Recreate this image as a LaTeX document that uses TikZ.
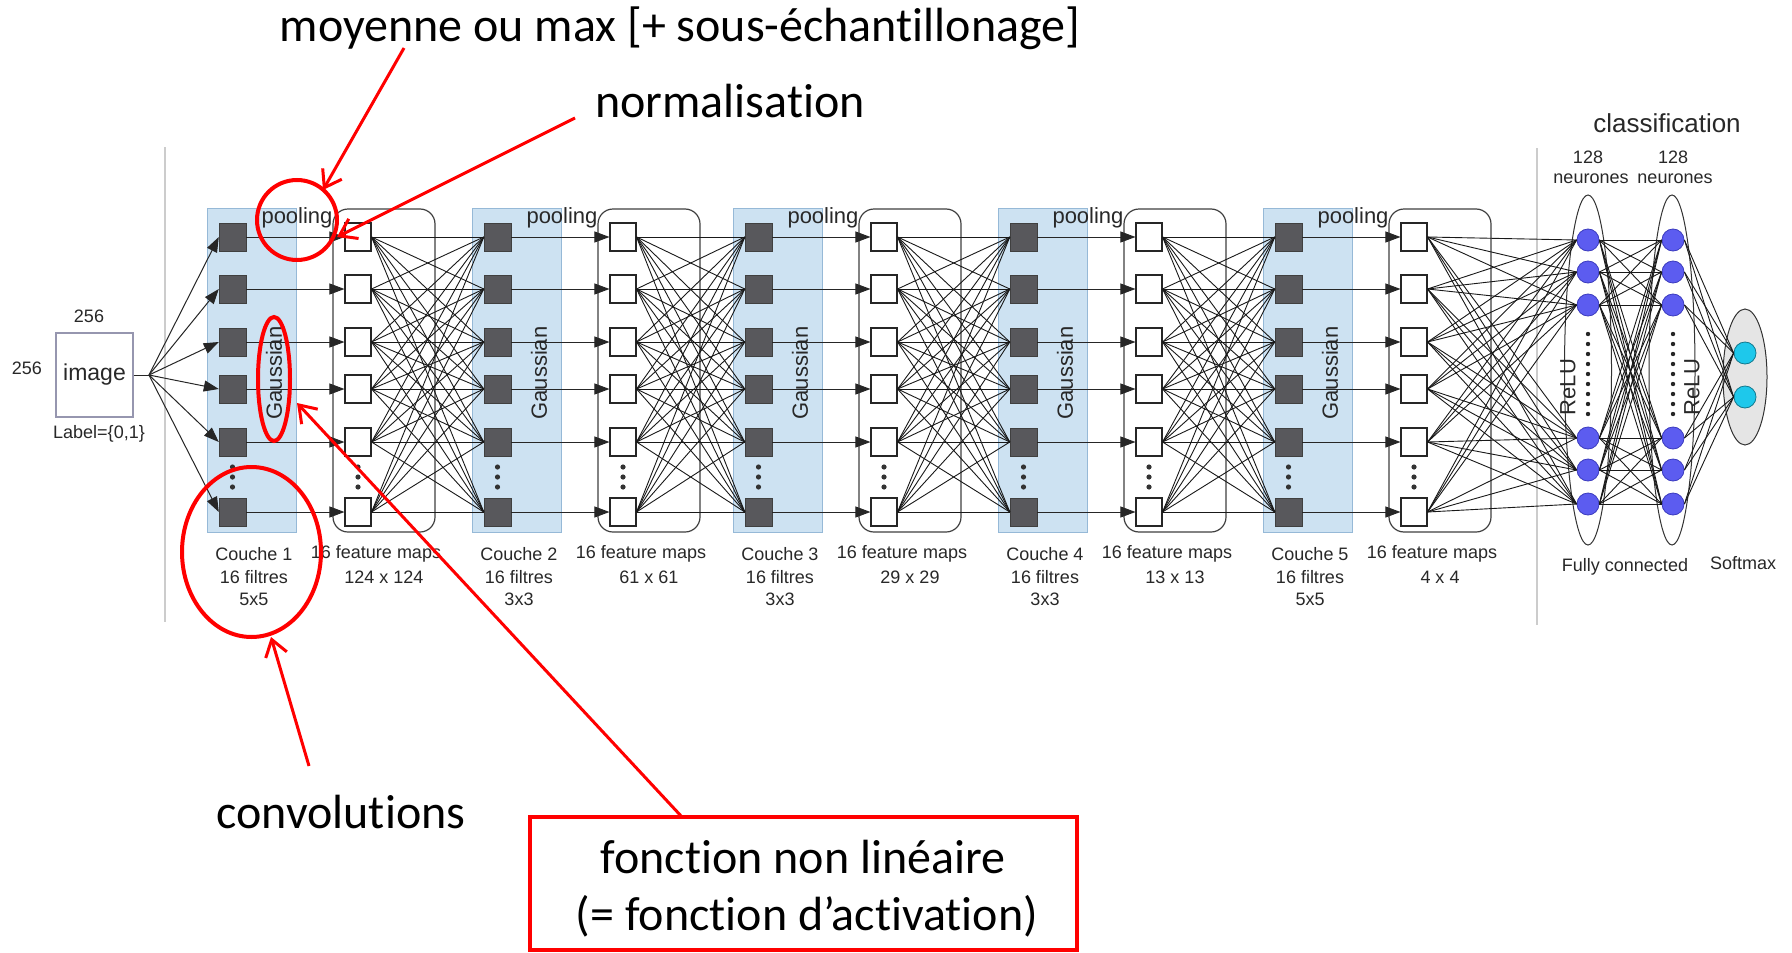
\documentclass[tikz,border=0pt]{standalone}
\usepackage{fontspec}
\setmainfont{Liberation Sans}
\newfontfamily\calib[Ligatures={NoCommon,TeX}]{Carlito}
\usetikzlibrary{arrows.meta,shapes.geometric}
\definecolor{bluefill}{RGB}{205,226,242}
\definecolor{blueedge}{RGB}{150,185,215}
\definecolor{darksq}{RGB}{88,88,92}
\definecolor{neuronc}{RGB}{92,92,240}
\definecolor{neuronedge}{RGB}{60,60,190}
\definecolor{softn}{RGB}{30,200,235}
\definecolor{txt}{RGB}{40,40,40}
\definecolor{annred}{RGB}{255,0,0}
\definecolor{imgedge}{RGB}{150,150,175}
\begin{document}
\begin{tikzpicture}[x=1pt,y=-1pt,
  darkbox/.style={draw=black!75, fill=darksq, minimum width=27pt, minimum height=28pt, inner sep=0pt},
  whitebox/.style={draw=black!85, line width=1.1pt, fill=white, minimum width=26pt, minimum height=28pt, inner sep=0pt},
  layerbg/.style={draw=blueedge, fill=bluefill, line width=1pt},
  fmapbox/.style={draw=black!75, line width=1.2pt, rounded corners=15pt},
  sepline/.style={draw=black!20, line width=1.5pt},
  mesh/.style={draw=black!90, line width=0.9pt},
  fwd/.style={draw=black!85, line width=1pt, -{Triangle[length=15pt,width=11pt]}},
  lbl/.style={text=txt, font=\fontsize{18}{22.5}\selectfont, align=center, inner sep=0pt},
  mid/.style={text=txt, font=\fontsize{22}{26}\selectfont, inner sep=0pt},
  big/.style={text=txt, font=\fontsize{26}{30}\selectfont, inner sep=0pt},
  neur/.style={circle, fill=neuronc, draw=neuronedge, line width=0.8pt, minimum size=22pt, inner sep=0pt},
  sneur/.style={circle, fill=softn, draw=black!40!softn, line width=0.8pt, minimum size=22pt, inner sep=0pt},
  group/.style={draw=black!80, line width=1pt},
  redring/.style={draw=annred, line width=4pt},
  redarrow/.style={draw=annred, line width=3pt, -{Straight Barb[length=16pt,width=22pt]}},
  ann/.style={font=\calib\fontsize{48}{57}\selectfont, inner sep=0pt, align=center},
]
\useasboundingbox (0,0) rectangle (1792,953);
\fill[white] (0,0) rectangle (1792,953);

% separators
\draw[sepline] (165,147) -- (165,622);
\draw[sepline] (1537,148) -- (1537,625);

% stage backgrounds
\foreach \xo in {207,472,733,998,1263} {
  \draw[layerbg] (\xo,208) rectangle ++(89,324);
  \draw[fmapbox] (\xo+126,209) rectangle ++(102,323);
}

% input image
\node[draw=imgedge, line width=1.2pt, minimum width=77pt, minimum height=84pt, inner sep=0pt,
      text=txt, font=\fontsize{23}{27}\selectfont] (img) at (94.5,375) {image};
\node[lbl] (imgw) at (89,316) {256};
\node[lbl] (imgh) at (27,368) {256};
\node[lbl] (imglab) at (99,434) {Label=\{0,1\}};
\coordinate (fan) at (149,375);

% squares
\foreach \i/\xo in {1/207,2/472,3/733,4/998,5/1263} {
  \foreach \r/\y in {1/237,2/289,3/342,4/389,5/442,6/512} {
    \node[darkbox] (d\i-\r) at (\xo+25.5,\y) {};
    \node[whitebox] (w\i-\r) at (\xo+151,\y) {};
  }
  \foreach \yy in {467,477,487} {
    \fill[black!80] (\xo+25.5,\yy) circle (2.6pt);
    \fill[black!80] (\xo+151,\yy) circle (2.6pt);
  }
  \node[mid] (pool\i) at (\xo+90,218) {pooling};
  \node[mid, rotate=90] (gauss\i) at (\xo+67,373) {Gaussian};
}

% connections from image
\draw[draw=black!85, line width=1pt] (img.east) -- (fan);
\foreach \r in {1,...,6} {
  \draw[fwd] (fan) -- (d1-\r.west);
}

% horizontal arrows
\foreach \i in {1,...,5} {
  \foreach \r in {1,...,6} {
    \draw[fwd] (d\i-\r.east) -- (w\i-\r.west);
  }
}

% meshes between stages
\foreach \i/\j in {1/2,2/3,3/4,4/5} {
  \foreach \a in {1,...,6} {
    \foreach \b in {1,...,6} {
      \draw[mesh] (w\i-\a.east) -- (d\j-\b.west);
    }
  }
}

% labels under stages
\foreach \i/\xo/\fs/\fm in {1/207/5x5/124 x 124, 2/472/3x3/61 x 61, 3/733/3x3/29 x 29, 4/998/3x3/13 x 13, 5/1263/5x5/4 x 4} {
  \node[lbl] (cl\i) at (\xo+47,577) {Couche \i\\16 filtres\\\fs};
  \node[lbl] (fla\i) at (\xo+169,554) {16 feature maps};
  \node[lbl] (flb\i) at (\xo+177,577) {\fm};
}

% classification part
\draw[group] (1588,370) ellipse [x radius=23.5pt, y radius=175pt];
\draw[group] (1672,370) ellipse [x radius=23pt, y radius=175pt];
\draw[group, fill=black!10] (1745,377) ellipse [x radius=22pt, y radius=68pt];

\foreach \r/\y in {1/240,2/272,3/305,4/438,5/470,6/504} {
  \node[neur] (n\r) at (1588,\y) {};
  \node[neur] (m\r) at (1673,\y) {};
}
\node[sneur] (s1) at (1745,353) {};
\node[sneur] (s2) at (1745,397) {};

\foreach \yy in {334,344,...,414} {
  \fill[black!85] (1588,\yy) circle (2.2pt);
  \fill[black!85] (1673,\yy) circle (2.2pt);
}

\foreach \a in {1,...,6} {
  \foreach \b in {1,...,6} {
    \draw[mesh] (w5-\a.east) -- (n\b.west);
    \draw[mesh] (n\a.east) -- (m\b.west);
  }
  \draw[mesh] (m\a.east) -- (s1.west);
  \draw[mesh] (m\a.east) -- (s2.west);
}

\node[mid, rotate=90] (relu1) at (1568,387) {ReLU};
\node[mid, rotate=90] (relu2) at (1692,387) {ReLU};
\node[big] (classif) at (1667,123) {classification};
\node[lbl] (c128a) at (1588,157) {128};
\node[lbl] (neua) at (1591,179) {neurones};
\node[lbl] (c128b) at (1673,157) {128};
\node[lbl] (neub) at (1675,179) {neurones};
\node[lbl] (fc) at (1625,567) {Fully connected};
\node[lbl] (smx) at (1743,563) {Softmax};

% red annotations
\node[ann] (tmoy) at (680,28) {moyenne ou max [+ sous-échantillonage]};
\node[ann] (tnorm) at (730,101) {normalisation};
\node[ann] (tconv) at (341,812) {convolutions};
\draw[draw=annred, line width=4pt] (530,817) rectangle (1077,950);
\node[ann] (tact) at (803,889)
  {fonction non linéaire\\ \hspace*{8pt}(= fonction d’activation)};

\draw[redring] (297,220) circle (40pt);
\draw[redring] (274,379) ellipse [x radius=16pt, y radius=62pt];
\draw[redring] (251.5,552) ellipse [x radius=69.5pt, y radius=85pt];

\coordinate (a1s) at (404,48);
\coordinate (a1e) at (323,190);
\coordinate (a2s) at (575,118);
\coordinate (a2e) at (337,237);
\coordinate (a3s) at (309,766);
\coordinate (a3e) at (271,637);
\coordinate (a4s) at (682,817);
\coordinate (a4e) at (297,403);
\draw[redarrow] (a1s) -- (a1e);
\draw[redarrow] (a2s) -- (a2e);
\draw[redarrow] (a3s) -- (a3e);
\draw[redarrow] (a4s) -- (a4e);
\end{tikzpicture}
\end{document}
